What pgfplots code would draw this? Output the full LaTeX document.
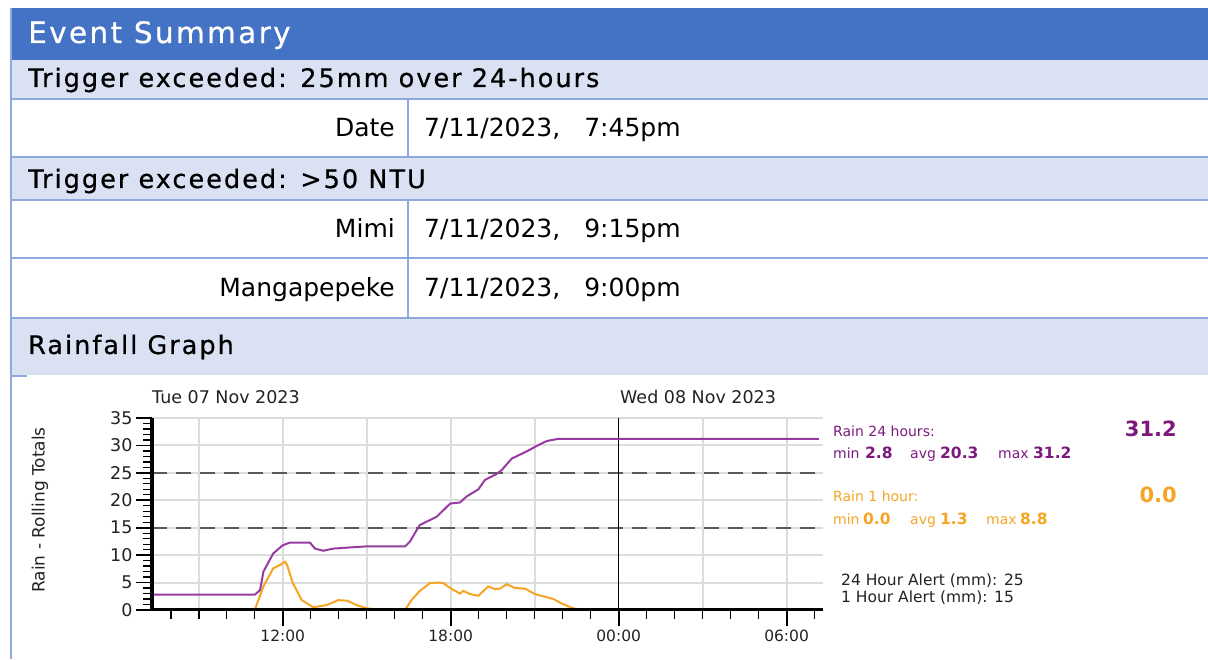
\documentclass[border=0pt]{standalone}
\usepackage{pgfplots}
\pgfplotsset{compat=1.18}
\usepackage{fontspec}
\setmainfont{DejaVu Sans}
\newfontfamily\hdr[LetterSpace=8,FakeBold=0.6]{DejaVu Sans}
\definecolor{titleblue}{RGB}{68,114,196}
\definecolor{bandblue}{RGB}{217,225,242}
\definecolor{borderblue}{RGB}{142,169,219}
\definecolor{rainpurple}{RGB}{150,60,160}
\definecolor{textpurple}{RGB}{125,25,125}
\definecolor{rainorange}{RGB}{245,165,35}
\definecolor{gridgray}{RGB}{220,220,220}
\definecolor{dashgray}{RGB}{90,90,90}
\definecolor{charttext}{RGB}{34,34,34}
\newcommand{\fs}[1]{\fontsize{#1}{#1}\selectfont}
\begin{document}
\begin{tikzpicture}[x=1pt,y=1pt]
\useasboundingbox (0,0) rectangle (1208,659);
% table bands
\fill[titleblue] (12,651) rectangle (1208,599);
\fill[bandblue] (12,599) rectangle (1208,560);
\fill[bandblue] (12,500.5) rectangle (1208,459);
\fill[bandblue] (12,341) rectangle (1208,284);
\draw[borderblue, line width=2pt] (12,560) -- (1208,560);
\draw[borderblue, line width=2pt] (12,501.5) -- (1208,501.5);
\draw[borderblue, line width=2pt] (12,459) -- (1208,459);
\draw[borderblue, line width=2pt] (12,401) -- (1208,401);
\draw[borderblue, line width=2pt] (12,341) -- (1208,341);
\draw[borderblue, line width=2pt] (12,283) -- (27,283);
\draw[borderblue, line width=2pt] (408,560) -- (408,501.5);
\draw[borderblue, line width=2pt] (408,459) -- (408,341);
\draw[borderblue, line width=2pt] (11,651) -- (11,0);
% table text
\node[anchor=base west, inner sep=0, text=white] at (28,616) {\hdr\fs{29.5}Event Summary};
\node[anchor=base west, inner sep=0] at (28,572) {\hdr\fs{25.5}Trigger exceeded: 25mm over 24-hours};
\node[anchor=base east, inner sep=0] at (395,522) {\fs{25}Date};
\node[anchor=base west, inner sep=0] at (424,522) {\fs{25}7/11/2023,\hspace{24pt}7:45pm};
\node[anchor=base west, inner sep=0] at (28,471) {\hdr\fs{25.5}Trigger exceeded: >50 NTU};
\node[anchor=base east, inner sep=0] at (395,421) {\fs{25}Mimi};
\node[anchor=base west, inner sep=0] at (424,421) {\fs{25}7/11/2023,\hspace{24pt}9:15pm};
\node[anchor=base east, inner sep=0] at (395,362) {\fs{25}Mangapepeke};
\node[anchor=base west, inner sep=0] at (424,362) {\fs{25}7/11/2023,\hspace{24pt}9:00pm};
\node[anchor=base west, inner sep=0] at (28,305) {\hdr\fs{25.5}Rainfall Graph};
% chart annotations
\node[anchor=base west, inner sep=0, text=charttext] at (152,255.6) {\fs{17.5}Tue 07 Nov 2023};
\node[anchor=base west, inner sep=0, text=charttext] at (620,255.6) {\fs{17.5}Wed 08 Nov 2023};
\node[rotate=90, inner sep=0, text=charttext] at (40,149) {\fs{17}Rain - Rolling Totals};
% legend
\node[anchor=base west, inner sep=0, text=textpurple] at (833,222) {\fs{14}Rain 24 hours:};
\node[anchor=base east, inner sep=0, text=textpurple] at (1177,222.3) {\fs{21}\bfseries 31.2};
\node[anchor=base west, inner sep=0, text=textpurple] at (833,200.3) {\fs{14}min};
\node[anchor=base west, inner sep=0, text=textpurple] at (865,200.3) {\fs{15.5}\bfseries 2.8};
\node[anchor=base west, inner sep=0, text=textpurple] at (910,200.3) {\fs{14}avg};
\node[anchor=base west, inner sep=0, text=textpurple] at (940,200.3) {\fs{15.5}\bfseries 20.3};
\node[anchor=base west, inner sep=0, text=textpurple] at (998,200.3) {\fs{14}max};
\node[anchor=base west, inner sep=0, text=textpurple] at (1033,200.3) {\fs{15.5}\bfseries 31.2};
\node[anchor=base west, inner sep=0, text=rainorange] at (833,157) {\fs{14}Rain 1 hour:};
\node[anchor=base east, inner sep=0, text=rainorange] at (1177,156.3) {\fs{21}\bfseries 0.0};
\node[anchor=base west, inner sep=0, text=rainorange] at (833,134.3) {\fs{14}min};
\node[anchor=base west, inner sep=0, text=rainorange] at (863,134.3) {\fs{15.5}\bfseries 0.0};
\node[anchor=base west, inner sep=0, text=rainorange] at (910,134.3) {\fs{14}avg};
\node[anchor=base west, inner sep=0, text=rainorange] at (940,134.3) {\fs{15.5}\bfseries 1.3};
\node[anchor=base west, inner sep=0, text=rainorange] at (986,134.3) {\fs{14}max};
\node[anchor=base west, inner sep=0, text=rainorange] at (1020,134.3) {\fs{15.5}\bfseries 8.8};
\node[anchor=base west, inner sep=0, text=charttext] at (841,73.4) {\fs{15.5}24 Hour Alert (mm): 25};
\node[anchor=base west, inner sep=0, text=charttext] at (841,56.4) {\fs{15.5}1 Hour Alert (mm): 15};
\begin{axis}[
  at={(152pt,49pt)}, anchor=south west,
  scale only axis, width=671pt, height=192pt,
  xmin=7.33, xmax=31.3, ymin=0, ymax=35,
  axis x line*=bottom, axis y line*=left,
  x axis line style={line width=3pt, black},
  y axis line style={line width=3.5pt, black},
  axis on top,
  xtick={12,18,24,30}, xticklabels={12:00,18:00,00:00,06:00},
  minor xtick={8,...,31},
  ytick={0,5,...,35},
  xtick align=outside, ytick align=outside,
  major tick length=16pt, minor tick length=9pt,
  every major tick/.style={line width=1.8pt, black},
  every minor tick/.style={line width=1.5pt, black},
  /pgf/number format/assume math mode=true,
  xticklabel style={font=\fs{15.5}, text=charttext},
  yticklabel style={font=\fs{17.5}, text=charttext},
  clip=false,
]
\pgfplotsinvokeforeach{9,12,15,18,21,27,30}{
  \draw[gridgray, line width=2pt] (axis cs:#1,0) -- (axis cs:#1,35);
}
\pgfplotsinvokeforeach{5,10,15,20,25,30,35}{
  \draw[gridgray, line width=2pt] (axis cs:7.33,#1) -- (axis cs:31.3,#1);
}
\addplot[dashgray, line width=1.8pt, dash pattern=on 15pt off 9pt] coordinates {(7.33,15) (31.3,15)};
\addplot[dashgray, line width=1.8pt, dash pattern=on 15pt off 9pt] coordinates {(7.33,25) (31.3,25)};
\addplot[black, line width=1.5pt] coordinates {(24,0) (24,35)};
\addplot[rainpurple, line width=2pt] coordinates {
(7.33,2.8) (11.0,2.8) (11.19,3.6) (11.31,7.0) (11.66,10.3) (12.0,11.8) (12.26,12.3)
(12.97,12.3) (13.15,11.2) (13.45,10.8) (13.81,11.2) (14.4,11.4) (15.0,11.6) (16.37,11.6)
(16.55,12.5) (16.79,14.6) (16.9,15.5) (17.14,16.1) (17.5,17.0) (17.98,19.4) (18.33,19.6)
(18.57,20.7) (18.99,22.0) (19.22,23.7) (19.64,24.8) (19.82,25.5) (20.18,27.6) (20.71,28.9)
(21.07,29.9) (21.43,30.8) (21.84,31.2) (31.15,31.2)
};
\addplot[rainorange, line width=2pt] coordinates {
(7.33,0) (11.0,0) (11.31,4.3) (11.66,7.6) (11.9,8.2) (12.08,8.8) (12.15,8.3) (12.36,4.9)
(12.68,1.8) (13.09,0.5) (13.57,0.9) (13.99,1.8) (14.3,1.7) (14.64,0.9) (15.0,0.3) (15.6,0)
(16.37,0) (16.6,1.8) (16.9,3.5) (17.26,4.9) (17.56,5.0) (17.74,4.9) (17.98,4.0) (18.33,3.0)
(18.45,3.5) (18.69,2.9) (18.99,2.6) (19.34,4.3) (19.58,3.8) (19.76,3.9) (20.0,4.7) (20.3,4.0)
(20.65,3.9) (21.01,2.9) (21.67,2.0) (21.96,1.2) (22.38,0.3) (22.74,0) (31.3,0)
};
% y axis line and its ticks
\draw[black, line width=3.5pt] (axis cs:7.33,0) -- (axis cs:7.33,35);
\pgfplotsinvokeforeach{1,2,3,4,6,7,8,9,11,12,13,14,16,17,18,19,21,22,23,24,26,27,28,29,31,32,33,34}{
  \draw[black, line width=1.3pt] (axis cs:7.33,#1) -- ([xshift=-9pt]axis cs:7.33,#1);
}
\pgfplotsinvokeforeach{0,5,10,15,20,25,30,35}{
  \draw[black, line width=1.8pt] (axis cs:7.33,#1) -- ([xshift=-16pt]axis cs:7.33,#1);
}
\end{axis}
\end{tikzpicture}
\end{document}
